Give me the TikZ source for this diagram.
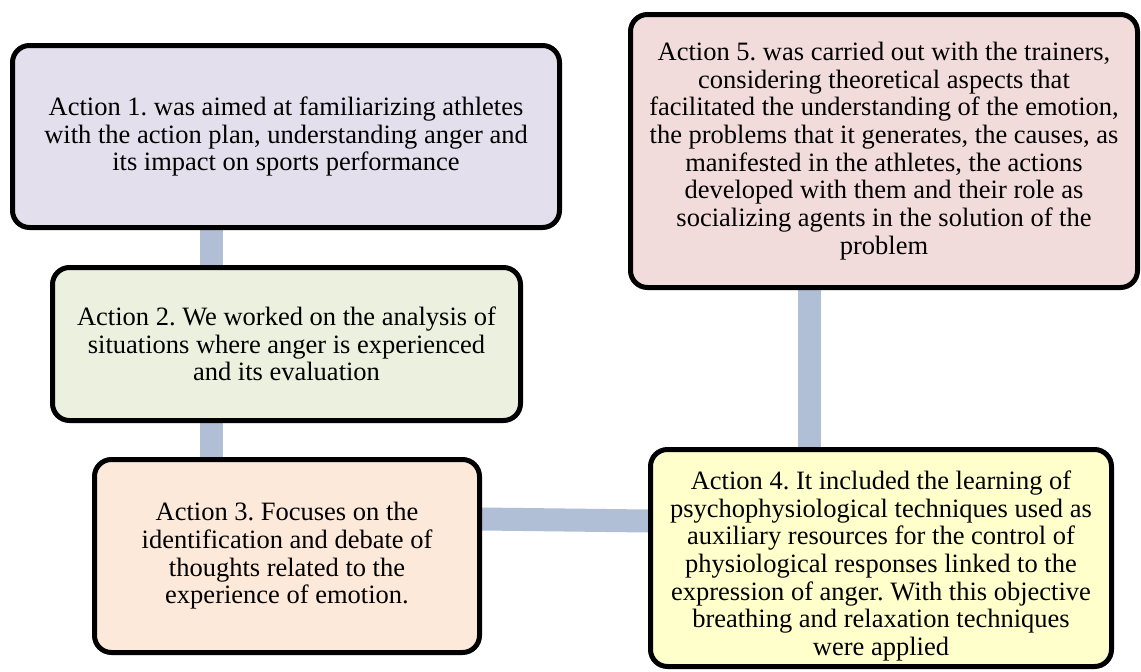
\documentclass[tikz,border=0pt]{standalone}
\usepackage{fontspec}
\setmainfont{Liberation Serif}
\usetikzlibrary{backgrounds}
\definecolor{cone}{HTML}{E4DFEC}
\definecolor{ctwo}{HTML}{EBF1DE}
\definecolor{cthree}{HTML}{FDE9D9}
\definecolor{cfour}{HTML}{FFFFCC}
\definecolor{cfive}{HTML}{F2DCDB}
\definecolor{conncol}{HTML}{B0BED6}
\frenchspacing
\begin{document}
\begin{tikzpicture}[x=1pt,y=-1pt,
  box/.style={draw=black, line width=5pt, rounded corners=17pt, align=center,
    inner sep=0pt, font=\fontsize{26.5}{27.7}\selectfont, text=black},
  txt/.style={align=center, inner sep=0pt, font=\fontsize{26.5}{27.7}\selectfont, text=black},
  link/.style={draw=conncol, line width=23pt}]
\useasboundingbox (0,0) rectangle (1141,672);

\node[box, fill=cone, minimum width=547pt, minimum height=182pt] (b1) at (286,136.5)
  {Action 1. was aimed at familiarizing athletes\\with the action plan, understanding anger and\\its impact on sports performance};
\node[box, fill=ctwo, minimum width=468pt, minimum height=153pt] (b2) at (286.5,344)
  {Action 2. We worked on the analysis of\\situations where anger is experienced\\and its evaluation};
\node[box, fill=cthree, minimum width=385pt, minimum height=193pt] (b3) at (287,556)
  {Action 3. Focuses on the\\identification and debate of\\thoughts related to the\\experience of emotion.};
\node[box, fill=cfour, minimum width=461pt, minimum height=217pt] (b4) at (881,558) {};
\node[txt] (b4t) at (881,566)
  {Action 4. It included the learning of\\psychophysiological techniques used as\\auxiliary resources for the control of\\physiological responses linked to the\\expression of anger. With this objective\\breathing and relaxation techniques\\were applied};
\node[box, fill=cfive, minimum width=507pt, minimum height=273pt] (b5) at (884,151)
  {Action 5. was carried out with the trainers,\\considering theoretical aspects that\\facilitated the understanding of the emotion,\\the problems that it generates, the causes, as\\manifested in the athletes, the actions\\developed with them and their role as\\socializing agents in the solution of the\\problem};

\begin{scope}[on background layer]
\fill[white] (0,0) rectangle (1141,672);
\draw[link] ([xshift=-75pt]b1.south) -- ([xshift=-75.5pt]b2.north);
\draw[link] ([xshift=-75.5pt]b2.south) -- ([xshift=-76pt]b3.north);
\draw[link] ([yshift=37pt]b3.east) -- ([yshift=37pt]b4.west);
\draw[link] ([xshift=-75pt]b5.south) -- ([xshift=-72pt]b4.north);
\end{scope}
\end{tikzpicture}
\end{document}
